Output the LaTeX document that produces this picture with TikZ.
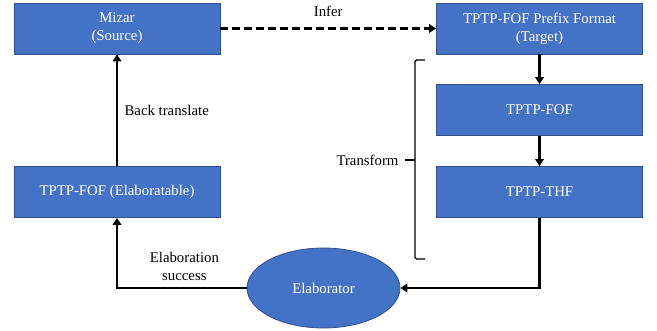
\documentclass[tikz,border=0pt]{standalone}
\usepackage{fontspec}
\setmainfont{Liberation Serif}
\usepackage{xcolor}
\usetikzlibrary{arrows.meta}
\usetikzlibrary{shapes.geometric}
\definecolor{boxblue}{HTML}{4472C4}
\definecolor{edgeblue}{HTML}{2F528F}

\tikzset{
  block/.style={rectangle, fill=boxblue, draw=edgeblue, line width=0.8pt, text=white, minimum width=206pt, minimum height=51pt, inner sep=0pt, align=center},
  engine/.style={ellipse, fill=boxblue, draw=edgeblue, line width=0.8pt, text=white, minimum width=153pt, minimum height=80pt, inner sep=0pt},
  flow/.style={line width=2.5pt, -{Triangle[length=7pt,width=8.5pt]}},
}

\begin{document}
\begin{tikzpicture}[x=1pt, y=-1pt, font=\fontsize{14.8}{18}\selectfont]
        \useasboundingbox (0,0) rectangle (657,331);
        %BLOCKS
        \node[block] (mizar) at (117,28.5) {Mizar\\(Source)};
        \node[block] (target) at (539.5,28.5) {TPTP-FOF Prefix Format\\(Target)};
        \node[block] (fof) at (539.5,110) {TPTP-FOF};
        \node[block] (thf) at (539.5,192) {TPTP-THF};
        \node[block] (elab) at (117,192) {TPTP-FOF (Elaboratable)};
        \node[engine] (elaborator) at (323.5,288) {Elaborator};
        %ARROWS
        \draw[flow, dash pattern=on 8pt off 4pt] (mizar) -- node[midway, above=7pt]{Infer} (target);
        \draw[flow] (target) -- (fof);
        \draw[flow] (fof) -- (thf);
        \draw[flow] (thf.south) |- (elaborator.east);
        \draw[flow] (elaborator.west) -| node[pos=0.24, above=3pt, align=center]{Elaboration\\success} (elab.south);
        \draw[flow] (elab) -- node[midway, right=3pt]{Back translate} (mizar);
        %BRACKET
        \draw[line width=1.2pt, rounded corners=1.5pt] (425,60) -- (415,60) -- (415,259) -- (425,259);
        \draw[line width=1.2pt] (415,160) -- (405,160);
        \node[left] (transform) at (402,160) {Transform};
    \end{tikzpicture}
\end{document}
